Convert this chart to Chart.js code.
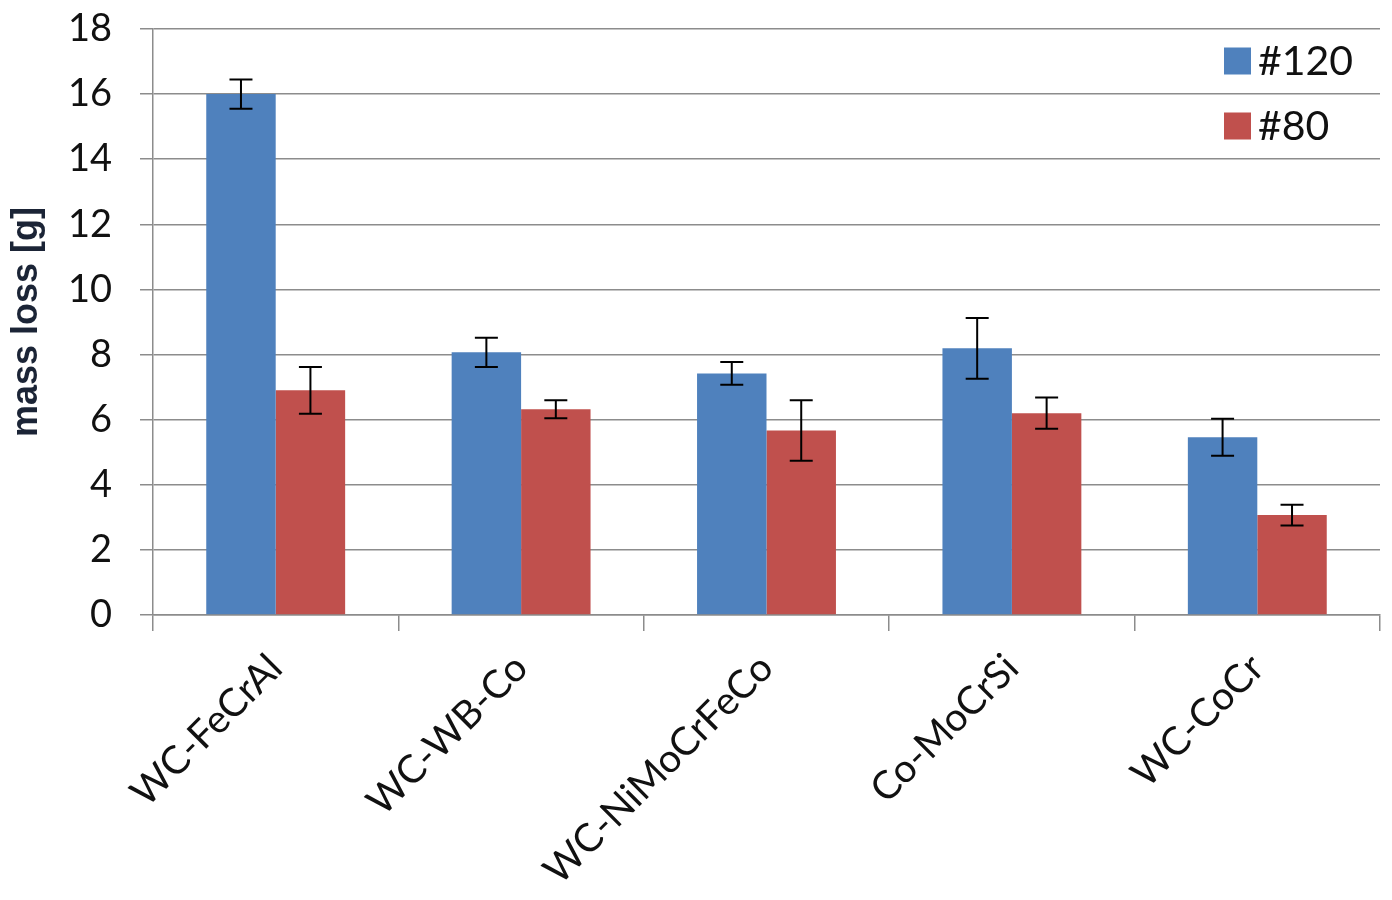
<!DOCTYPE html>
<html>
<head>
<meta charset="utf-8">
<script src="https://cdn.jsdelivr.net/npm/chart.js@4"></script>
<style>
  body { margin: 0; background: #fff; }
  #wrap { width: 1392px; height: 900px; }
</style>
</head>
<body>
<div id="wrap"><canvas id="barChart" width="1392" height="900"></canvas></div>
<script>
// data
var categories = ['WC-FeCrAl', 'WC-WB-Co', 'WC-NiMoCrFeCo', 'Co-MoCrSi', 'WC-CoCr'];
var loss120 = [16.0, 8.07, 7.42, 8.19, 5.46];
var err120 = [0.45, 0.45, 0.35, 0.93, 0.57];
var loss80 = [6.9, 6.32, 5.67, 6.2, 3.07];
var err80 = [0.72, 0.28, 0.93, 0.48, 0.32];
var yTicks = [0, 2, 4, 6, 8, 10, 12, 14, 16, 18];

var gridColor = '#8c8c8c';

// error bars, drawn with the chart's own y scale
const errorBars = {
  id: 'errorBars',
  afterDatasetsDraw(chart) {
    const ctx = chart.ctx;
    const y = chart.scales.y;
    ctx.save();
    ctx.strokeStyle = '#000';
    ctx.lineWidth = 2;
    chart.data.datasets.forEach((ds, i) => {
      const meta = chart.getDatasetMeta(i);
      meta.data.forEach((bar, j) => {
        const v = ds.data[j], e = ds.errors[j];
        const top = y.getPixelForValue(v + e);
        const bot = y.getPixelForValue(v - e);
        const x = bar.x;
        ctx.beginPath();
        ctx.moveTo(x, top); ctx.lineTo(x, bot);
        ctx.moveTo(x - 11.5, top); ctx.lineTo(x + 11.5, top);
        ctx.moveTo(x - 11.5, bot); ctx.lineTo(x + 11.5, bot);
        ctx.stroke();
      });
    });
    ctx.restore();
  }
};

// legend in the top right corner of the plot
const cornerLegend = {
  id: 'cornerLegend',
  afterDraw(chart) {
    const ctx = chart.ctx;
    const area = chart.chartArea;
    ctx.save();
    ctx.font = '41px Lato';
    ctx.textBaseline = 'middle';
    chart.data.datasets.forEach((ds, i) => {
      const cy = area.top + 32 + i * 65;
      const sx = area.right - 156;
      ctx.fillStyle = ds.backgroundColor;
      ctx.fillRect(sx, cy - 13.5, 27, 27);
      ctx.fillStyle = '#111';
      ctx.fillText(ds.label, sx + 34, cy + 1);
    });
    ctx.restore();
  }
};

new Chart(document.getElementById('barChart'), {
  type: 'bar',
  data: {
    labels: categories,
    datasets: [{
      label: '#120',
      data: loss120,
      errors: err120,
      backgroundColor: '#4F81BD'
    }, {
      label: '#80',
      data: loss80,
      errors: err80,
      backgroundColor: '#C0504D'
    }]
  },
  options: {
    responsive: false,
    animation: false,
    layout: { padding: { left: 5, top: 29, right: 12, bottom: 0 } },
    categoryPercentage: 0.566,
    barPercentage: 1,
    plugins: {
      legend: { display: false },
      tooltip: { enabled: false }
    },
    scales: {
      x: {
        afterFit: function (s) { s.height = 285; },
        grid: {
          offset: true,
          drawOnChartArea: false,
          drawTicks: true,
          tickLength: 16,
          color: gridColor,
          lineWidth: 1.5
        },
        border: { display: true, color: gridColor, width: 1.5 },
        ticks: {
          minRotation: 45,
          maxRotation: 45,
          padding: 14,
          color: '#111',
          font: { family: 'Lato', size: 39 }
        }
      },
      y: {
        min: 0,
        max: 18,
        afterFit: function (s) {
          s.width = 148;
          s.paddingTop = 0;
          s.paddingBottom = 0;
        },
        afterBuildTicks: function (s) { s.ticks = yTicks.map(v => ({ value: v })); },
        grid: {
          color: gridColor,
          lineWidth: 1.5,
          tickLength: 13
        },
        border: { display: true, color: gridColor, width: 1.5 },
        ticks: {
          padding: 28,
          color: '#111',
          font: { family: 'Lato', size: 38 }
        },
        title: {
          display: true,
          text: 'mass loss [g]',
          color: '#1b2436',
          padding: { top: 0, bottom: 0 },
          font: { family: 'Liberation Sans', size: 36, weight: 'bold' }
        }
      }
    }
  },
  plugins: [errorBars, cornerLegend]
});
</script>
</body>
</html>
